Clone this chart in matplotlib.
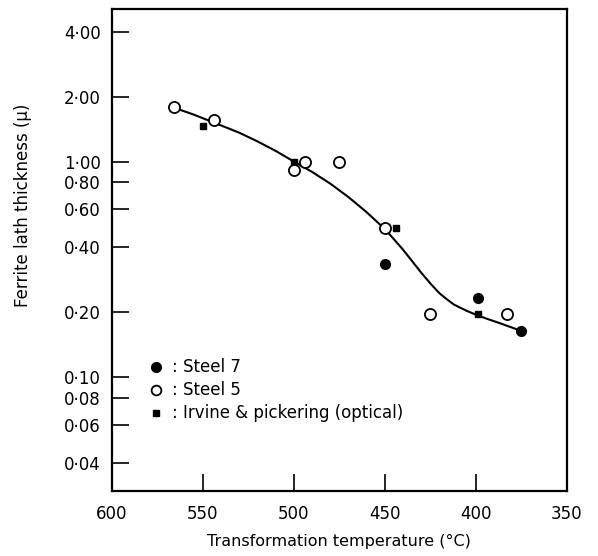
import matplotlib
matplotlib.use("Agg")
import matplotlib.pyplot as plt
from matplotlib.lines import Line2D

# Data
steel7_T = [450, 399, 375]
steel7_t = [0.335, 0.232, 0.163]

steel5_T = [566, 544, 500, 494, 475, 450, 425, 383]
steel5_t = [1.79, 1.55, 0.91, 0.99, 1.00, 0.49, 0.197, 0.197]

irvine_T = [550, 500, 444, 399]
irvine_t = [1.46, 1.00, 0.49, 0.197]

curve_T = [567, 555, 540, 530, 520, 510, 500, 490, 480, 470, 460, 450, 445, 440, 435,
           430, 425, 420, 416, 412, 405, 400, 395, 386, 376]
curve_t = [1.79, 1.65, 1.47, 1.36, 1.24, 1.12, 1.00, 0.895, 0.79, 0.684, 0.582, 0.486, 0.436,
           0.390, 0.345, 0.305, 0.272, 0.245, 0.230, 0.217, 0.203, 0.195, 0.188, 0.177, 0.165]

yticks = [4.0, 2.0, 1.0, 0.8, 0.6, 0.4, 0.2, 0.1, 0.08, 0.06, 0.04]
ytick_labels = ["4·00", "2·00", "1·00", "0·80", "0·60", "0·40", "0·20", "0·10", "0·08", "0·06", "0·04"]
xticks = [600, 550, 500, 450, 400, 350]
xtick_labels = ["600", "550", "500", "450", "400", "350"]

fig = plt.figure(figsize=(5.98, 5.56), dpi=100)
ax = fig.add_axes([0.187, 0.117, 0.761, 0.867])
ax.set_yscale("log")
ax.set_xlim(600, 350)
ax.set_ylim(0.0297, 5.1)

ax.plot(curve_T, curve_t, color="black", lw=1.5, zorder=1, solid_joinstyle="round")
ax.plot(steel7_T, steel7_t, "o", color="black", ms=7, zorder=3, linestyle="none")
ax.plot(steel5_T, steel5_t, "o", mfc="white", mec="black", mew=1.3, ms=8, zorder=3, linestyle="none")
ax.plot(irvine_T, irvine_t, "s", color="black", ms=5, zorder=2, linestyle="none")

ax.set_yticks(yticks)
ax.set_yticklabels(ytick_labels)
ax.minorticks_off()
ax.set_xticks(xticks)
ax.set_xticklabels(xtick_labels)
ax.tick_params(axis="both", direction="in", length=12, width=1.2, labelsize=12, pad=8)
ax.tick_params(axis="x", pad=10)
for s in ax.spines.values():
    s.set_linewidth(1.6)

ax.set_xlabel("Transformation temperature (°C)", fontsize=11.5, labelpad=8)
ax.set_ylabel("Ferrite lath thickness (μ)", fontsize=12)
ax.yaxis.set_label_coords(-0.175, 0.593)

handles = [
    Line2D([], [], marker="o", color="black", ms=7, linestyle="none"),
    Line2D([], [], marker="o", mfc="white", mec="black", mew=1.3, ms=7, linestyle="none"),
    Line2D([], [], marker="s", color="black", ms=5, linestyle="none"),
]
labels = [": Steel 7", ": Steel 5", ": Irvine & pickering (optical)"]
ax.legend(handles, labels, loc="lower left", bbox_to_anchor=(0.06, 0.125), frameon=False,
          fontsize=12, handletextpad=0.5, labelspacing=0.3, handlelength=1.0, borderpad=0)

fig.savefig("out.png", dpi=100)
